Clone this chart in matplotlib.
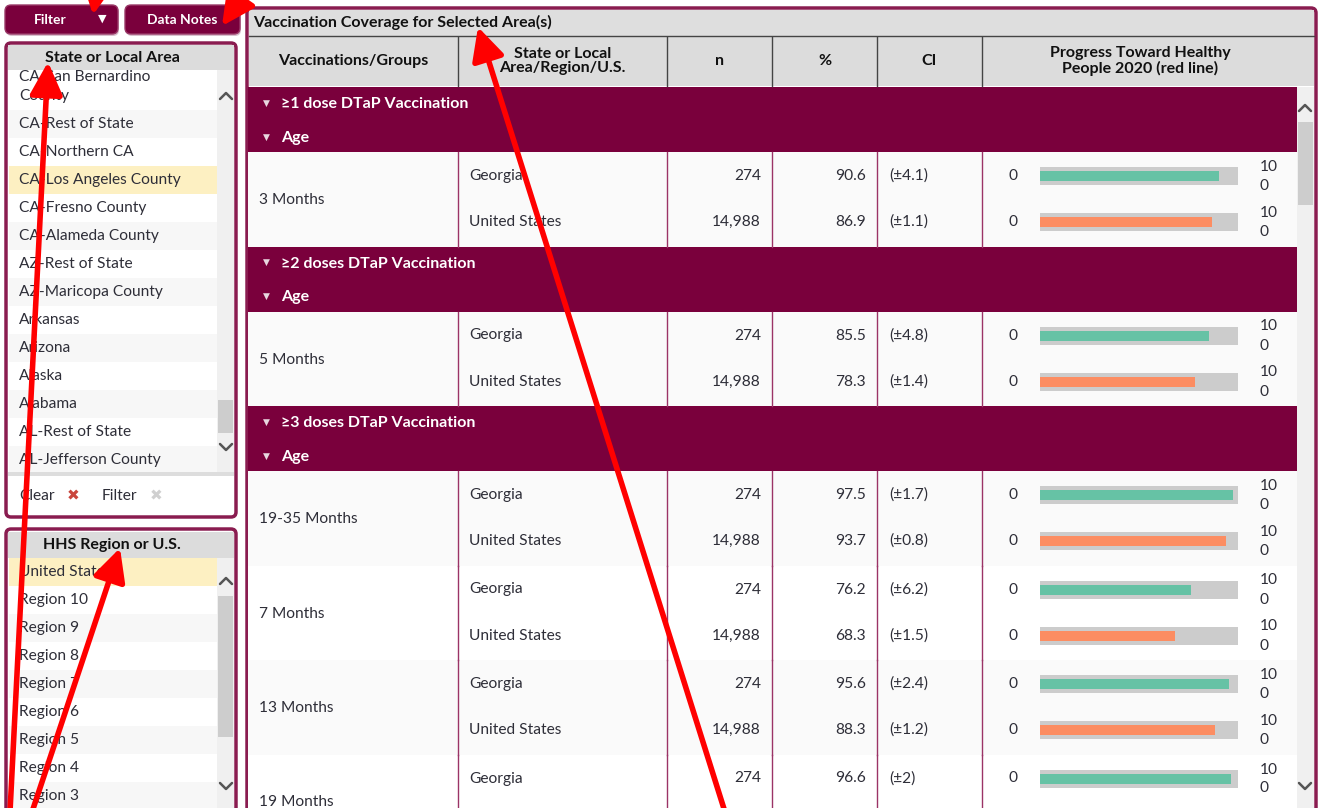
import matplotlib
matplotlib.use('Agg')
import matplotlib.pyplot as plt
from matplotlib.patches import Rectangle, FancyBboxPatch

plt.rcParams['font.family'] = ['Lato', 'DejaVu Sans']

# ---------------- data ----------------
state_areas = ["CA-San Bernardino\nCounty", "CA-Rest of State", "CA-Northern CA",
               "CA-Los Angeles County", "CA-Fresno County", "CA-Alameda County",
               "AZ-Rest of State", "AZ-Maricopa County", "Arkansas", "Arizona",
               "Alaska", "Alabama", "AL-Rest of State", "AL-Jefferson County"]
selected_state = "CA-Los Angeles County"
hhs_regions = ["United States", "Region 10", "Region 9", "Region 8", "Region 7",
               "Region 6", "Region 5", "Region 4", "Region 3"]
selected_region = "United States"
columns = ["Vaccinations/Groups", "State or Local\nArea/Region/U.S.", "n", "%", "CI",
           "Progress Toward Healthy\nPeople 2020 (red line)"]
vaccinations = ["\u22651 dose DTaP Vaccination", "\u22652 doses DTaP Vaccination",
                "\u22653 doses DTaP Vaccination"]
age_groups = ["3 Months", "5 Months", "19-35 Months", "7 Months", "13 Months", "19 Months"]
age_vaccination = [0, 1, 2, 2, 2, 2]
areas = ["Georgia", "United States"]
n_georgia = [274, 274, 274, 274, 274, 274]
n_us = [14988, 14988, 14988, 14988, 14988, None]
pct_georgia = [90.6, 85.5, 97.5, 76.2, 95.6, 96.6]
pct_us = [86.9, 78.3, 93.7, 68.3, 88.3, None]
ci_georgia = ["\u00b14.1", "\u00b14.8", "\u00b11.7", "\u00b16.2", "\u00b12.4", "\u00b12"]
ci_us = ["\u00b11.1", "\u00b11.4", "\u00b10.8", "\u00b11.5", "\u00b11.2", None]
scale_min, scale_max = 0, 100

# ---------------- style ----------------
W, H = 1318, 808
MAROON = '#7a003c'
BORDER = '#8a1c50'
HEAD = '#dcdcdc'
TXT = '#2e2e38'
GREEN = '#66c2a5'
ORANGE = '#fc8d62'
YELLOW = '#fdf0c2'
FS = 11.2     # body font size
FSB = 11.5    # bold header font size

fig = plt.figure(figsize=(W / 100, H / 100), dpi=100)
ax = fig.add_axes([0, 0, 1, 1])
ax.set_xlim(0, W)
ax.set_ylim(H, 0)
ax.axis('off')


def rect(x0, y0, x1, y1, fc, ec='none', lw=0, z=1):
    ax.add_patch(Rectangle((x0, y0), x1 - x0, y1 - y0, facecolor=fc, edgecolor=ec, lw=lw, zorder=z))


def rbox(x0, y0, x1, y1, fc, ec, lw, r=5, z=1):
    ax.add_patch(FancyBboxPatch((x0, y0), x1 - x0, y1 - y0,
                                boxstyle=f"round,pad=0,rounding_size={r}",
                                facecolor=fc, edgecolor=ec, lw=lw, zorder=z))


def chevron(x, y, up=True, color='#555555'):
    d = -1 if up else 1
    ax.plot([x - 6, x, x + 6], [y - 3 * d, y + 3 * d, y - 3 * d], color=color, lw=1.8,
            solid_capstyle='round', zorder=6)


# ---------------- buttons ----------------
for (x0, x1) in [(5, 118), (125, 240)]:
    rbox(x0 + 1, 6, x1 + 1, 36, '#d8c0cc', 'none', 0, r=6, z=1)
    rbox(x0, 5, x1, 34, MAROON, '#9a3a68', 1, r=6, z=2)
ax.text(50, 20, "Filter", color='white', fontsize=10, fontweight='bold', ha='center', va='center', zorder=3)
ax.text(102, 19, "\u25bc", color='white', fontsize=8, ha='center', va='center', zorder=3,
        family=['DejaVu Sans'])
ax.text(182, 20, "Data Notes", color='white', fontsize=10, fontweight='bold', ha='center', va='center', zorder=3)

# ---------------- State or Local Area panel ----------------
rbox(6, 43, 236, 517, 'white', BORDER, 2.5, r=5, z=1)
for i, name in enumerate(state_areas):
    if i == 0:
        y0, y1 = 70, 110
    else:
        yc = 124 + 28 * (i - 1)
        y0, y1 = yc - 14, yc + 14
    if name == selected_state:
        rect(9, y0, 217, y1, YELLOW, z=2)
    elif i % 2 == 1:
        rect(9, y0, 217, y1, '#f7f7f7', z=2)
    if i == 0:
        ax.text(19, 77, "CA-San Bernardino", color=TXT, fontsize=FS, ha='left', va='center', zorder=3)
        ax.text(19, 96, "County", color=TXT, fontsize=FS, ha='left', va='center', zorder=3)
    else:
        ax.text(19, (y0 + y1) / 2, name, color=TXT, fontsize=FS, ha='left', va='center', zorder=3)
rect(8, 45, 234, 70, HEAD, z=4)
ax.text(112, 58, "State or Local Area", color='#111111', fontsize=FSB, fontweight='bold',
        ha='center', va='center', zorder=5)
rect(217, 70, 234, 472, '#f0f0f0', z=4)
rect(218, 400, 233, 433, '#cdcdcd', z=5)
chevron(226, 96, up=True)
chevron(226, 447, up=False)
rect(8, 472, 234, 476, '#dddddd', z=4)
ax.text(19, 496, "Clear", color=TXT, fontsize=FS, ha='left', va='center', zorder=5)
ax.text(73, 496, "\u2716", color='#c9463d', fontsize=11, ha='center', va='center', zorder=5,
        family=['DejaVu Sans'])
ax.text(102, 496, "Filter", color=TXT, fontsize=FS, ha='left', va='center', zorder=5)
ax.text(156, 496, "\u2716", color='#d0d0d0', fontsize=11, ha='center', va='center', zorder=5,
        family=['DejaVu Sans'])

# ---------------- HHS Region panel ----------------
rbox(6, 529, 236, 830, 'white', BORDER, 2.5, r=5, z=1)
for i, name in enumerate(hhs_regions):
    yc = 572 + 28 * i
    if name == selected_region:
        rect(9, yc - 14, 217, yc + 14, YELLOW, z=2)
    elif i % 2 == 0:
        rect(9, yc - 14, 217, yc + 14, '#f7f7f7', z=2)
    ax.text(19, yc, name, color=TXT, fontsize=FS, ha='left', va='center', zorder=3)
rect(8, 532, 234, 558, HEAD, z=4)
ax.text(112, 545, "HHS Region or U.S.", color='#111111', fontsize=FSB, fontweight='bold',
        ha='center', va='center', zorder=5)
rect(217, 558, 234, 808, '#f0f0f0', z=4)
rect(218, 596, 233, 737, '#cdcdcd', z=5)
chevron(226, 581, up=True)
chevron(226, 786, up=False)

# ---------------- main panel ----------------
rbox(247, 8, 1316, 830, 'white', BORDER, 2.5, r=5, z=1)
rect(249, 10, 1314, 36, '#dedede', z=2)
ax.plot([249, 1314], [36, 36], color='#444444', lw=1, zorder=3)
ax.text(253, 22.5, "Vaccination Coverage for Selected Area(s)", color='#111111', fontsize=FSB,
        fontweight='bold', ha='left', va='center', zorder=3)
rect(249, 37, 1314, 86, HEAD, z=2)
col_edges = [249, 458, 667, 772, 877, 982, 1314]
for x in col_edges[1:-1]:
    ax.plot([x, x], [37, 86], color='#444444', lw=1, zorder=3)
for i, c in enumerate(columns):
    xc = (col_edges[i] + col_edges[i + 1]) / 2
    if i == len(columns) - 1:
        xc = 1140
    ax.text(xc, 61, c, color='#111111', fontsize=FSB, fontweight='bold', ha='center',
            va='center', linespacing=1.0, zorder=3)

# body
body_x0, body_x1 = 248, 1297
band_h, group_h = 65, 94.5
row_y = []
row_pct = []
row_color = []
y = 87
prev = None
alt = 0
for gi, age in enumerate(age_groups):
    sec = age_vaccination[gi]
    if sec != prev:
        rect(body_x0, y, body_x1, y + band_h, MAROON, z=2)
        ax.text(266, y + 16, "\u25bc", color='#e8d8e0', fontsize=6.5, ha='center', va='center',
                zorder=3, family=['DejaVu Sans'])
        ax.text(281, y + 17, vaccinations[sec], color='white', fontsize=FSB, fontweight='bold',
                ha='left', va='center', zorder=3)
        ax.text(266, y + 50, "\u25bc", color='#e8d8e0', fontsize=6.5, ha='center', va='center',
                zorder=3, family=['DejaVu Sans'])
        ax.text(281, y + 51, "Age", color='white', fontsize=FSB, fontweight='bold',
                ha='left', va='center', zorder=3)
        y += band_h
        prev = sec
        alt = 0
    rect(body_x0, y, body_x1, y + group_h, '#fafafa' if alt % 2 == 0 else 'white', z=2)
    alt += 1
    for x in col_edges[1:-1]:
        ax.plot([x, x], [y, y + group_h], color='#9b3366', lw=1, zorder=3)
    ax.text(259, y + 48, age, color=TXT, fontsize=FS, ha='left', va='center', zorder=4)
    data = [(areas[0], n_georgia[gi], pct_georgia[gi], ci_georgia[gi], GREEN, y + 24),
            (areas[1], n_us[gi], pct_us[gi], ci_us[gi], ORANGE, y + 70)]
    for (area, n, p, ci, colr, yc) in data:
        if p is None:
            continue
        ax.text(469, yc, area, color=TXT, fontsize=FS, ha='left', va='center', zorder=4)
        ax.text(761, yc, f"{n:,}", color=TXT, fontsize=FS, ha='right', va='center', zorder=4)
        ax.text(866, yc, f"{p:.1f}", color=TXT, fontsize=FS, ha='right', va='center', zorder=4)
        ax.text(889, yc, f"({ci})", color=TXT, fontsize=FS, ha='left', va='center', zorder=4)
        ax.text(1013, yc, f"{scale_min}", color=TXT, fontsize=FS, ha='center', va='center', zorder=4)
        ax.text(1260, yc - 9, f"{scale_max}"[:2], color=TXT, fontsize=FS, ha='left', va='center', zorder=4)
        ax.text(1260, yc + 10, f"{scale_max}"[2:], color=TXT, fontsize=FS, ha='left', va='center', zorder=4)
        row_y.append(yc)
        row_pct.append(p)
        row_color.append(colr)
    y += group_h

# main scrollbar
rect(1297, 87, 1314, 808, '#f0f0f0', z=5)
rect(1298, 122, 1313, 205, '#cdcdcd', z=6)
chevron(1305, 108, up=True)
chevron(1305, 786, up=False)

# progress bars (data axes, 0-100 scale)
bax = fig.add_axes([1040 / W, 0, 198 / W, 1])
bax.set_xlim(scale_min, scale_max)
bax.set_ylim(H, 0)
bax.axis('off')
bax.barh(row_y, [scale_max] * len(row_y), height=18, left=0, color='#cccccc', zorder=1)
bax.barh(row_y, row_pct, height=10, left=0, color=row_color, zorder=2)

# ---------------- red annotation arrows ----------------
oax = fig.add_axes([0, 0, 1, 1])
oax.set_xlim(0, W)
oax.set_ylim(H, 0)
oax.axis('off')
arrows = [((10, 812), (48, 62)), ((32, 812), (120, 548)), ((100, -30), (93, 15)),
          ((248, -12), (222, 26)), ((725, 812), (478, 27))]
for tail, tip in arrows:
    oax.annotate('', xy=tip, xytext=tail, annotation_clip=False,
                 arrowprops=dict(arrowstyle='-|>,head_length=0.9,head_width=0.45', color='#ff0000',
                                 lw=4, mutation_scale=22, shrinkA=0, shrinkB=0))

fig.savefig('out.png', dpi=100)
